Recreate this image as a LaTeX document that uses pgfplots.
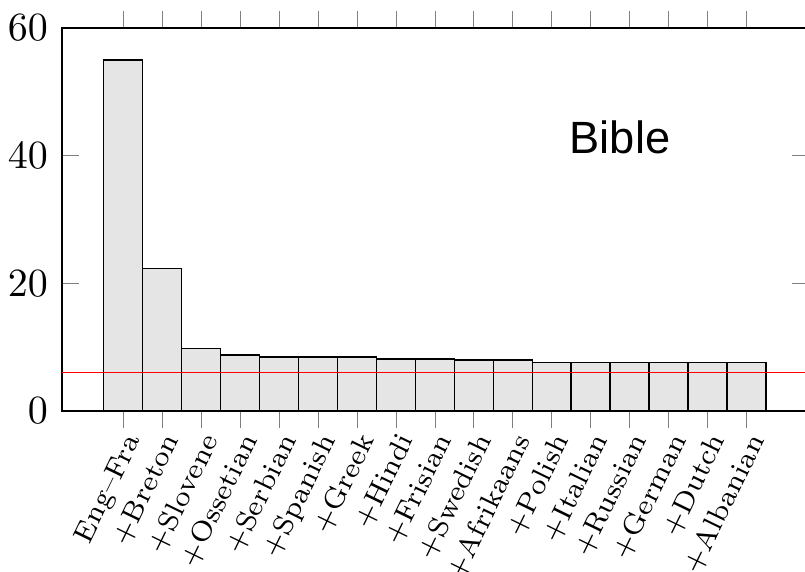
\documentclass[border=0pt]{standalone}
\usepackage{pgfplots}
\pgfplotsset{compat=1.18}
\usepackage{fontspec}
\newfontfamily\biblefont{Liberation Sans}
\begin{document}
\begin{tikzpicture}
\begin{axis}[
  scale only axis,
  width=186.75pt, height=95.75pt,
  xmin=-1.57, xmax=17.6,
  ymin=0, ymax=60,
  ytick={0,20,40,60},
  xtick={0,...,16},
  xticklabels={\mbox{Eng--Fra},\mbox{+Breton},\mbox{+Slovene},\mbox{+Ossetian},\mbox{+Serbian},\mbox{+Spanish},\mbox{+Greek},\mbox{+Hindi},\mbox{+Frisian},\mbox{+Swedish},\mbox{+Afrikaans},\mbox{+Polish},\mbox{+Italian},\mbox{+Russian},\mbox{+German},\mbox{+Dutch},\mbox{+Albanian}},
  xtick align=outside,
  xticklabel style={yshift=-0.5pt, rotate=64, anchor=north east, inner sep=0pt, font=\fontsize{7}{8}\selectfont},
]
\addplot[ybar, bar width=1, fill=black!10, draw=black] coordinates {
(0,55) (1,22.35) (2,9.82) (3,8.8) (4,8.46) (5,8.46) (6,8.46) (7,8.15) (8,8.15)
(9,7.96) (10,7.96) (11,7.62) (12,7.62) (13,7.62) (14,7.62) (15,7.62) (16,7.62)};
\addplot[red, thin, sharp plot, mark=none] coordinates {(-1.57,6.06) (17.6,6.06)};
\node[font=\biblefont\fontsize{11.3pt}{13pt}\selectfont] at (rel axis cs:0.747,0.715) {Bible};
\end{axis}
\pgfresetboundingbox
\path[use as bounding box] (-15.5pt,-40pt) rectangle (185.75pt,102.75pt);
\end{tikzpicture}
\end{document}
